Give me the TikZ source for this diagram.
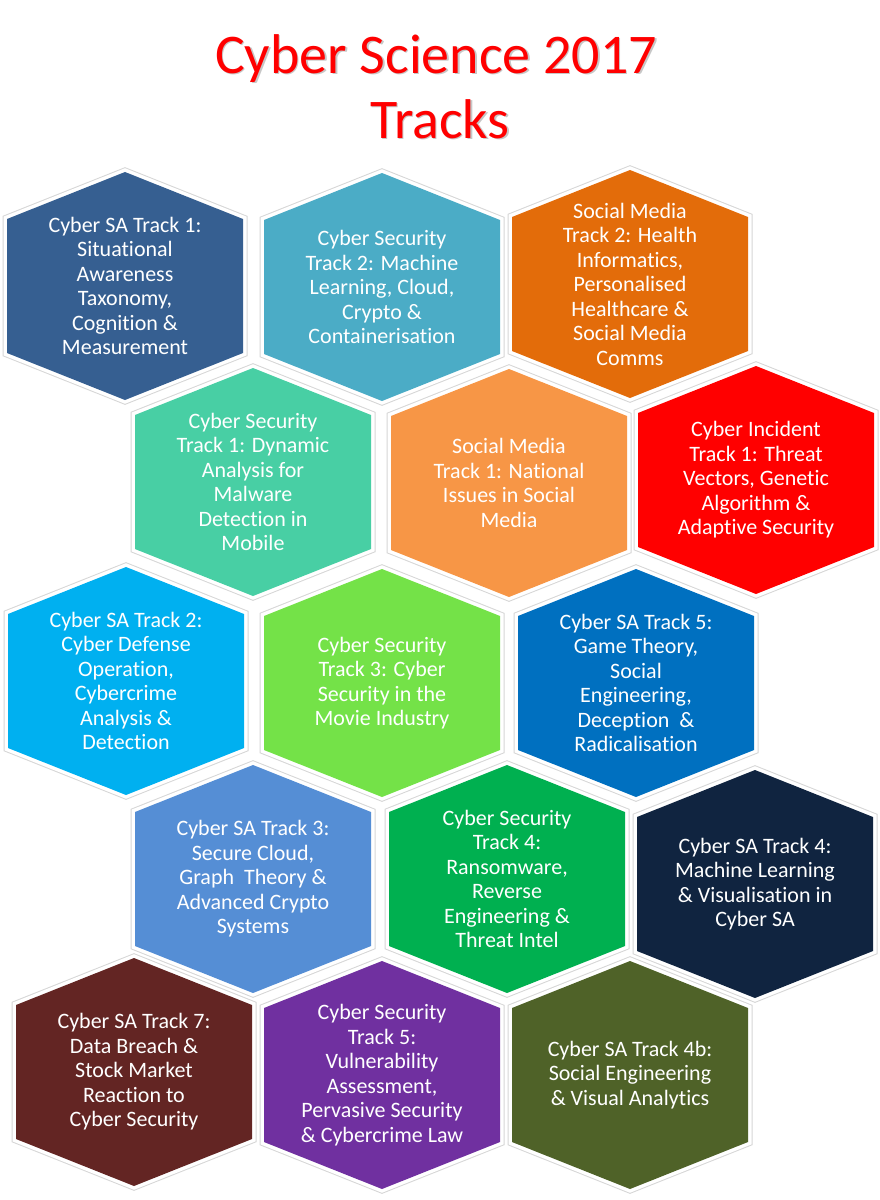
\documentclass[tikz,border=0pt]{standalone}
\usepackage{fontspec}
\setmainfont{Carlito}[Ligatures=NoCommon]
\definecolor{cA}{RGB}{54,95,145}
\definecolor{cB}{RGB}{75,172,198}
\definecolor{cC}{RGB}{227,108,10}
\definecolor{cD}{RGB}{72,207,164}
\definecolor{cE}{RGB}{247,150,70}
\definecolor{cF}{RGB}{255,0,0}
\definecolor{cG}{RGB}{0,176,240}
\definecolor{cH}{RGB}{116,226,72}
\definecolor{cI}{RGB}{0,112,192}
\definecolor{cJ}{RGB}{85,142,213}
\definecolor{cK}{RGB}{0,176,80}
\definecolor{cL}{RGB}{16,36,64}
\definecolor{cM}{RGB}{99,37,35}
\definecolor{cN}{RGB}{112,48,160}
\definecolor{cO}{RGB}{79,98,40}
\definecolor{titlered}{RGB}{255,0,0}
\tikzset{
  hexrim/.style={draw=black!16, line width=9pt, line join=miter},
  hexborder/.style={draw=white, line width=7pt, line join=miter},
  hextext/.style={text=white, align=center, inner sep=0pt,
    font=\fontsize{22}{24.5}\selectfont},
  titletext/.style={text=titlered, inner sep=0pt, anchor=base,
    font=\fontsize{56}{65}\selectfont},
  titleshadow/.style={text=black!22, inner sep=0pt, anchor=base,
    font=\fontsize{56}{65}\selectfont},
}
\newcommand{\hexcell}[5]{%
  \begin{scope}[shift={(#2,#3)}]
    \draw[hexrim] (0,-114) -- (118,-67) -- (118,67) -- (0,114) -- (-118,67) -- (-118,-67) -- cycle;
    \draw[hexborder] (0,-114) -- (118,-67) -- (118,67) -- (0,114) -- (-118,67) -- (-118,-67) -- cycle;
    \fill[#4] (0,-114) -- (118,-67) -- (118,67) -- (0,114) -- (-118,67) -- (-118,-67) -- cycle;
    \node[hextext] (#1) at (0,0) {#5};
  \end{scope}}
\begin{document}
\begin{tikzpicture}[x=1pt,y=-1pt]
\useasboundingbox (0,0) rectangle (880,1200);
\fill[white] (0,0) rectangle (880,1200);
% title
\node[titleshadow] (titleshadow1) at (437.5,74.5) {Cyber Science 2017};
\node[titleshadow] (titleshadow2) at (441.5,139.5) {Tracks};
\node[titletext] (title1) at (436,73) {Cyber Science 2017};
\node[titletext] (title2) at (440,138) {Tracks};
% row 1
\hexcell{h1}{125}{286}{cA}{Cyber SA Track 1:\\Situational\\Awareness\\Taxonomy,\\Cognition \&\\Measurement}
\hexcell{h2}{382}{287}{cB}{Cyber Security\\Track 2: Machine\\Learning, Cloud,\\Crypto \&\\Containerisation}
\hexcell{h3}{630}{284}{cC}{Social Media\\Track 2: Health\\Informatics,\\Personalised\\Healthcare \&\\Social Media\\Comms}
% row 2
\hexcell{h4}{253}{482}{cD}{Cyber Security\\Track 1: Dynamic\\Analysis for\\Malware\\Detection in\\Mobile}
\hexcell{h5}{509}{483}{cE}{Social Media\\Track 1: National\\Issues in Social\\Media}
\hexcell{h6}{756}{480}{cF}{Cyber Incident\\Track 1: Threat\\Vectors, Genetic\\Algorithm \&\\Adaptive Security}
% row 3
\hexcell{h7}{126}{681}{cG}{Cyber SA Track 2:\\Cyber Defense\\Operation,\\Cybercrime\\Analysis \&\\Detection}
\hexcell{h8}{382}{683}{cH}{Cyber Security\\Track 3: Cyber\\Security in the\\Movie Industry}
\hexcell{h9}{636}{683}{cI}{Cyber SA Track 5:\\Game Theory,\\Social\\Engineering,\\Deception\ \ \&\\Radicalisation}
% row 4
\hexcell{h10}{253}{879}{cJ}{Cyber SA Track 3:\\Secure Cloud,\\Graph\ \ Theory \&\\Advanced Crypto\\Systems}
\hexcell{h11}{507}{879}{cK}{Cyber Security\\Track 4:\\Ransomware,\\Reverse\\Engineering \&\\Threat Intel}
\hexcell{h12}{755}{884}{cL}{Cyber SA Track 4:\\Machine Learning\\\& Visualisation in\\Cyber SA}
% row 5
\hexcell{h13}{134}{1072}{cM}{Cyber SA Track 7:\\Data Breach \&\\Stock Market\\Reaction to\\Cyber Security}
\hexcell{h14}{382}{1075}{cN}{Cyber Security\\Track 5:\\Vulnerability\\Assessment,\\Pervasive Security\\\& Cybercrime Law}
\hexcell{h15}{630}{1075}{cO}{Cyber SA Track 4b:\\Social Engineering\\\& Visual Analytics}
\end{tikzpicture}
\end{document}
